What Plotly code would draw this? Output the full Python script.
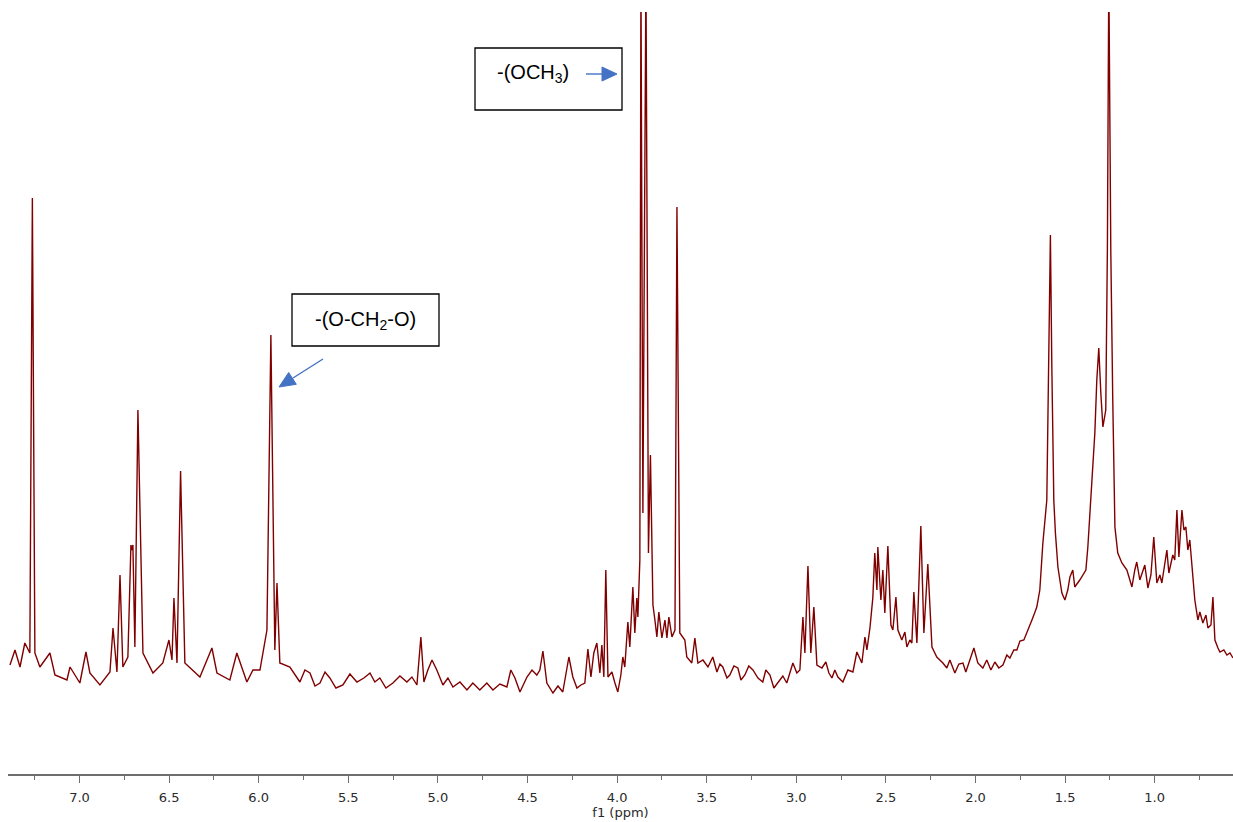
import plotly.graph_objects as go

# ---------------- spectrum trace (chemical shift in ppm, intensity in a.u.) ----------------
aromatic_ppm = [7.388, 7.360, 7.332, 7.305, 7.277, 7.263, 7.249, 7.221, 7.165, 7.137,
                7.070, 7.053, 6.998, 6.964, 6.942, 6.886, 6.830, 6.813, 6.791, 6.774,
                6.758, 6.730, 6.713, 6.708, 6.702, 6.691, 6.674, 6.646, 6.590, 6.535,
                6.501, 6.484, 6.473, 6.456, 6.436, 6.412, 6.328, 6.261, 6.233, 6.161,
                6.122, 6.066, 6.032, 5.993, 5.954, 5.932, 5.910, 5.898, 5.882, 5.826]
aromatic_int = [107, 122, 105, 129, 119, 574, 119, 105, 119, 97,
                92, 105, 89, 120, 99, 87, 100, 144, 100, 197,
                105, 115, 227, 222, 227, 125, 362, 119, 99, 109,
                132, 112, 174, 109, 301, 109, 95, 124, 99, 92,
                119, 90, 102, 102, 142, 437, 122, 189, 109, 105]

mid_ppm = [5.770, 5.742, 5.714, 5.686, 5.658, 5.630, 5.603, 5.569, 5.530, 5.491,
           5.452, 5.413, 5.379, 5.352, 5.324, 5.290, 5.251, 5.212, 5.173, 5.145,
           5.117, 5.095, 5.078, 5.056, 5.033, 5.006, 4.972, 4.944, 4.916, 4.877,
           4.838, 4.805, 4.766, 4.727, 4.693, 4.654, 4.615, 4.593, 4.570, 4.542,
           4.503, 4.475, 4.448, 4.431, 4.414, 4.392, 4.358, 4.330, 4.303, 4.286,
           4.269, 4.247, 4.224, 4.202, 4.180, 4.163, 4.146, 4.130, 4.113, 4.096]
mid_int = [90, 102, 99, 86, 89, 100, 94, 84, 87, 98,
           90, 94, 99, 90, 94, 84, 89, 96, 90, 95,
           87, 135, 90, 102, 112, 102, 87, 94, 85, 90,
           82, 89, 82, 89, 82, 88, 85, 102, 94, 80,
           95, 102, 97, 102, 121, 89, 79, 86, 80, 99,
           115, 95, 84, 87, 89, 123, 95, 119, 129, 99]

methoxy_ppm = [4.085, 4.074, 4.063, 4.051, 4.029, 4.012, 3.996, 3.979, 3.968, 3.957,
               3.940, 3.929, 3.917, 3.912, 3.901, 3.890, 3.884, 3.873, 3.867, 3.856,
               3.839, 3.825, 3.814, 3.800, 3.789, 3.778, 3.767, 3.750, 3.733, 3.722,
               3.711, 3.694, 3.677, 3.666, 3.650, 3.633, 3.622, 3.611]
methoxy_int = [127, 95, 202, 95, 100, 89, 80, 97, 115, 105,
               150, 125, 177, 185, 139, 174, 155, 212, 800, 259,
               800, 219, 317, 167, 152, 135, 160, 134, 152, 134,
               155, 135, 142, 565, 139, 135, 132, 115]

allyl_ppm = [3.583, 3.566, 3.549, 3.521, 3.493, 3.466, 3.443, 3.426, 3.410, 3.387,
             3.371, 3.348, 3.326, 3.309, 3.287, 3.265, 3.242, 3.214, 3.187, 3.170,
             3.147, 3.125, 3.103, 3.075, 3.053, 3.036, 3.019, 2.997, 2.980, 2.963,
             2.952, 2.935, 2.919, 2.902, 2.885, 2.857, 2.835, 2.818, 2.801, 2.785,
             2.768, 2.740, 2.712, 2.684, 2.662, 2.634, 2.617, 2.606, 2.589, 2.573,
             2.562, 2.550, 2.545, 2.528, 2.517, 2.506, 2.489, 2.472, 2.461, 2.444,
             2.433, 2.411, 2.394, 2.383, 2.366, 2.355, 2.344, 2.327, 2.305, 2.288,
             2.266, 2.243, 2.216]
allyl_int = [109, 134, 109, 112, 105, 115, 100, 108, 105, 94,
             97, 106, 104, 92, 97, 106, 102, 94, 90, 102,
             97, 84, 89, 96, 89, 100, 109, 99, 102, 155,
             119, 206, 119, 165, 107, 104, 110, 99, 94, 102,
             95, 90, 102, 100, 120, 109, 135, 122, 144, 174,
             219, 182, 225, 172, 202, 159, 226, 147, 142, 175,
             142, 132, 140, 125, 132, 129, 180, 129, 246, 139,
             208, 125, 115]

aliphatic_ppm = [2.182, 2.160, 2.143, 2.115, 2.093, 2.070, 2.054, 2.031, 2.009, 1.987,
                 1.959, 1.937, 1.914, 1.892, 1.870, 1.847, 1.825, 1.808, 1.786, 1.769,
                 1.752, 1.730, 1.713, 1.685, 1.668, 1.658, 1.641, 1.624, 1.602, 1.591,
                 1.582, 1.574, 1.563, 1.554, 1.540, 1.518, 1.501, 1.485, 1.473, 1.457,
                 1.446, 1.418, 1.384, 1.373, 1.351, 1.334, 1.323, 1.312, 1.300, 1.289,
                 1.273, 1.264, 1.256, 1.245, 1.234, 1.222, 1.206, 1.183, 1.155, 1.138,
                 1.127, 1.111, 1.100, 1.083, 1.066, 1.055, 1.038, 1.021, 1.005, 0.988,
                 0.971, 0.960, 0.932, 0.921, 0.899, 0.888, 0.876, 0.865, 0.848, 0.837,
                 0.826, 0.815, 0.804, 0.793, 0.776, 0.759, 0.748, 0.731, 0.714, 0.703,
                 0.686, 0.675, 0.664, 0.647, 0.636, 0.614, 0.597, 0.580, 0.563]
aliphatic_int = [109, 104, 112, 99, 108, 109, 100, 112, 124, 109,
                 104, 112, 102, 110, 104, 107, 117, 114, 122, 122,
                 131, 132, 139, 152, 160, 165, 182, 229, 272, 405,
                 537, 405, 272, 239, 205, 179, 172, 182, 195, 202,
                 185, 192, 202, 225, 289, 339, 392, 424, 377, 345,
                 362, 522, 800, 522, 372, 245, 219, 209, 202, 192,
                 185, 202, 210, 192, 202, 207, 184, 197, 235, 189,
                 197, 189, 222, 199, 217, 212, 262, 215, 262, 242,
                 245, 222, 232, 205, 172, 152, 160, 149, 157, 144,
                 147, 175, 132, 124, 120, 122, 117, 119, 114]

shift_ppm = aromatic_ppm + mid_ppm + methoxy_ppm + allyl_ppm + aliphatic_ppm
intensity = aromatic_int + mid_int + methoxy_int + allyl_int + aliphatic_int

x_range = [7.399, 0.563]
y_range = [-2, 760]
major_step = 0.5
minor_step = 0.25
label_ochh3 = "-(OCH<sub>3</sub>)"
label_och2o = "-(O-CH<sub>2</sub>-O)"

# ---------------- layout geometry helpers ----------------
W, H = 1233, 822
ML, MR, MT, MB = 8, 0, 12, 48


def px(x):
    return (x - ML) / (W - ML - MR)


def py(y):
    return (H - MB - y) / (H - MT - MB)


fig = go.Figure(
    go.Scatter(x=shift_ppm, y=intensity, mode="lines",
               line=dict(color="#800000", width=1.4), hoverinfo="skip",
               showlegend=False)
)

axis_col = "#6e6e6e"
fig.update_layout(
    width=W, height=H,
    margin=dict(l=ML, r=MR, t=MT, b=MB, pad=0),
    paper_bgcolor="white", plot_bgcolor="white",
    xaxis=dict(range=x_range, showgrid=False, zeroline=False,
               showline=True, linecolor=axis_col, linewidth=1.6,
               ticks="outside", ticklen=7, tickwidth=1.2, tickcolor=axis_col,
               tick0=0, dtick=major_step, tickformat=".1f",
               ticklabelstandoff=4,
               tickfont=dict(family="DejaVu Sans", size=13, color="#2a2a2a"),
               minor=dict(dtick=minor_step, tick0=0, ticks="outside", ticklen=4,
                          tickwidth=1.2, tickcolor=axis_col, showgrid=False),
               title=dict(text="f1 (ppm)", standoff=0,
                          font=dict(family="DejaVu Sans", size=13, color="#2a2a2a"))),
    yaxis=dict(range=y_range, visible=False, showgrid=False, zeroline=False),
)

shapes = []
annotations = []

# box 1 : -(OCH3)
shapes.append(dict(type="rect", xref="paper", yref="paper",
                   x0=px(475), x1=px(622), y0=py(110), y1=py(48),
                   line=dict(color="black", width=1.3), fillcolor="white"))
annotations.append(dict(xref="paper", yref="paper", x=px(533), y=py(73),
                        text=label_ochh3, showarrow=False, xanchor="center",
                        yanchor="middle",
                        font=dict(family="Liberation Sans, Arial", size=20, color="black")))
shapes.append(dict(type="line", xref="paper", yref="paper",
                   x0=px(586), y0=py(74), x1=px(604), y1=py(74),
                   line=dict(color="#4472C4", width=1.4)))
shapes.append(dict(type="path", xref="paper", yref="paper",
                   path=f"M {px(617)} {py(74)} L {px(602)} {py(67)} L {px(602)} {py(81)} Z",
                   fillcolor="#4472C4", line=dict(color="#4472C4", width=1)))

# box 2 : -(O-CH2-O)
shapes.append(dict(type="rect", xref="paper", yref="paper",
                   x0=px(292), x1=px(439), y0=py(346), y1=py(294),
                   line=dict(color="black", width=1.3), fillcolor="white"))
annotations.append(dict(xref="paper", yref="paper", x=px(365), y=py(320),
                        text=label_och2o, showarrow=False, xanchor="center",
                        yanchor="middle",
                        font=dict(family="Liberation Sans, Arial", size=20, color="black")))
shapes.append(dict(type="line", xref="paper", yref="paper",
                   x0=px(323), y0=py(359), x1=px(293), y1=py(378),
                   line=dict(color="#4472C4", width=1.4)))
shapes.append(dict(type="path", xref="paper", yref="paper",
                   path=(f"M {px(279)} {py(387)} L {px(288.7)} {py(372.5)} "
                         f"L {px(296.3)} {py(384.3)} Z"),
                   fillcolor="#4472C4", line=dict(color="#4472C4", width=1)))

fig.update_layout(shapes=shapes, annotations=annotations)

fig.write_html(
    "out.html",
    config={"displayModeBar": False},
    post_script="document.body.style.margin='0';document.body.style.overflow='hidden';",
)
